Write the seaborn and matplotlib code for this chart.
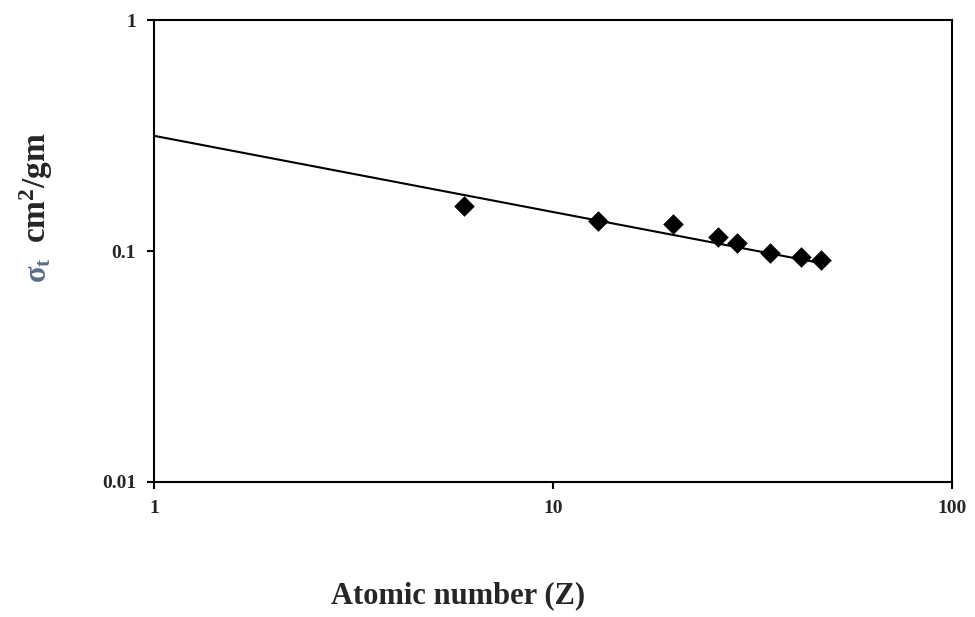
import numpy as np
import pandas as pd
import matplotlib
matplotlib.use("Agg")
import matplotlib.pyplot as plt
from matplotlib.ticker import FixedLocator, FixedFormatter, NullLocator
import seaborn as sns

# measured points (atomic number vs total attenuation coefficient)
z_values = [6, 13, 20, 26, 29, 35, 42, 47]
sigma_values = [0.1575, 0.1356, 0.1313, 0.1156, 0.1089, 0.0986, 0.0941, 0.0917]

# theoretical line (straight in log-log), end points
line_z = [1, 47]
line_sigma = [0.316, 0.0887]

x_ticks = [1, 10, 100]
x_tick_labels = ["1", "10", "100"]
y_ticks = [0.01, 0.1, 1]
y_tick_labels = ["0.01", "0.1", "1"]

sns.set_style("white")
plt.rcParams['font.family'] = ['Liberation Serif', 'DejaVu Serif']
plt.rcParams['mathtext.fontset'] = 'custom'
plt.rcParams['mathtext.rm'] = 'Liberation Serif:bold'
plt.rcParams['mathtext.it'] = 'Liberation Serif:bold'
plt.rcParams['mathtext.bf'] = 'Liberation Serif:bold'

fig = plt.figure(figsize=(9.75, 6.17), dpi=100)
ax = fig.add_axes([0.158, 0.219, 0.818, 0.748])

pts = pd.DataFrame({"Z": z_values, "sigma": sigma_values})
line = pd.DataFrame({"Z": line_z, "sigma": line_sigma})

sns.lineplot(data=line, x="Z", y="sigma", color="black", linewidth=1.5, ax=ax)
sns.scatterplot(data=pts, x="Z", y="sigma", marker="D", s=110, color="black",
                edgecolor="black", linewidth=0, ax=ax, zorder=3)

ax.set_xscale("log")
ax.set_yscale("log")
ax.set_xlim(1, 100)
ax.set_ylim(0.01, 1)

ax.xaxis.set_major_locator(FixedLocator(x_ticks))
ax.xaxis.set_major_formatter(FixedFormatter(x_tick_labels))
ax.xaxis.set_minor_locator(NullLocator())
ax.yaxis.set_major_locator(FixedLocator(y_ticks))
ax.yaxis.set_major_formatter(FixedFormatter(y_tick_labels))
ax.yaxis.set_minor_locator(NullLocator())

for side in ["left", "right", "top", "bottom"]:
    ax.spines[side].set_visible(True)
    ax.spines[side].set_color("black")
    ax.spines[side].set_linewidth(1.5)

ax.tick_params(axis="both", direction="out", length=5, width=1.5, color="black",
               left=True, bottom=True, labelsize=14, pad=8)
for lab in ax.get_xticklabels() + ax.get_yticklabels():
    lab.set_fontweight("bold")

ax.set_xlabel("Atomic number (Z)", fontsize=22, fontweight="bold")
ax.xaxis.set_label_coords(0.381, -0.216)
ax.set_ylabel("")

# y label: sigma symbol (greyish-blue in the original) plus units
fig.text(36 / 975, 1 - 188 / 617, "cm$^2$/gm", rotation=90, fontsize=24,
         fontweight="bold", ha="center", va="center")
fig.text(39 / 975, 1 - 270 / 617, r"$\sigma_t$", rotation=90, fontsize=22,
         color="#5b6b8c", ha="center", va="center")

fig.savefig("out.png", dpi=100, facecolor="white")
